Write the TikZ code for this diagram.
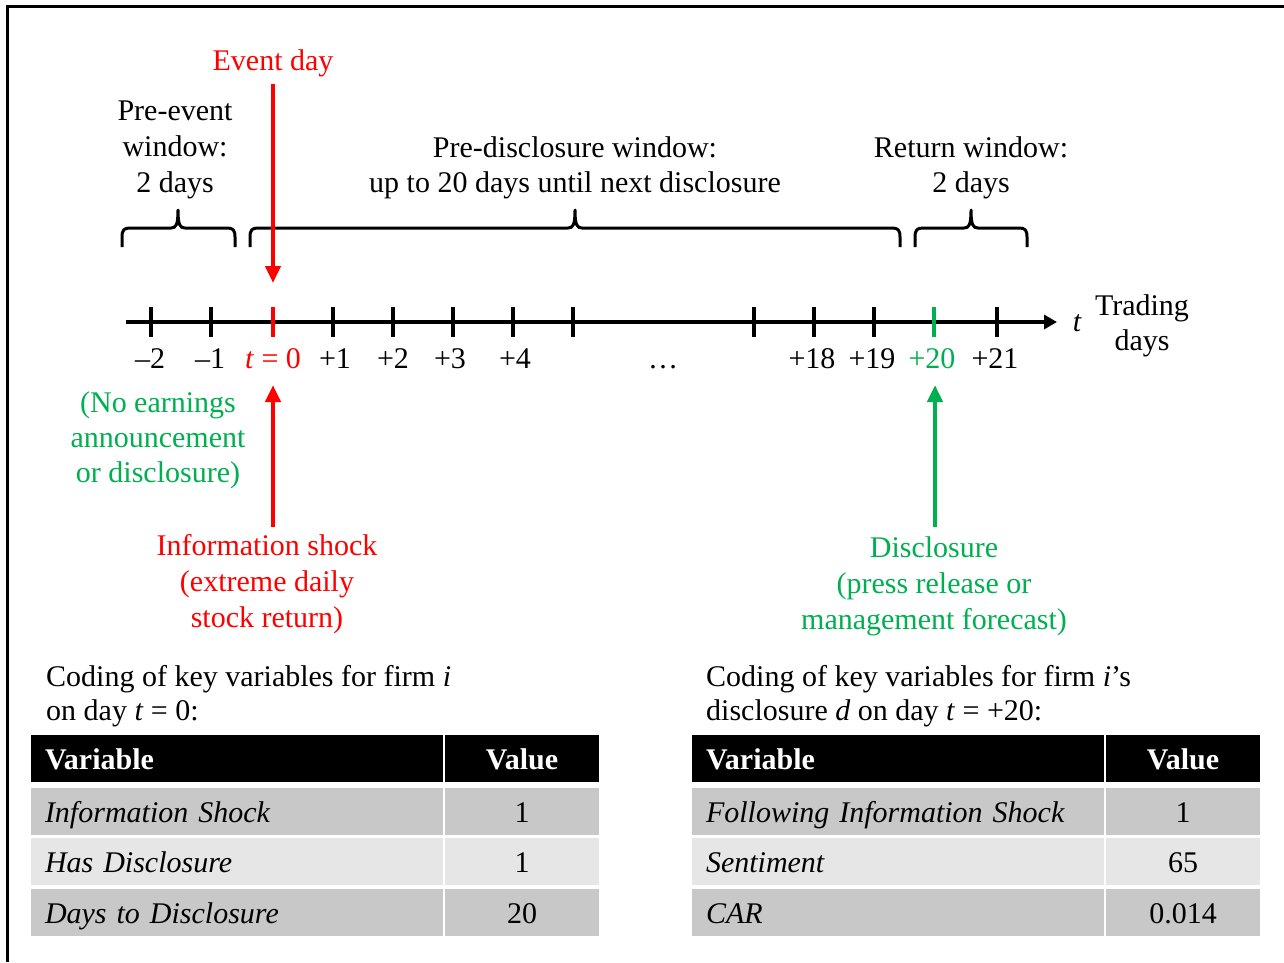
\documentclass[tikz,border=0pt]{standalone}
\usepackage{fontspec}
\setmainfont{Liberation Serif}
\usetikzlibrary{arrows.meta}
\definecolor{myred}{RGB}{255,0,0}
\definecolor{mygreen}{RGB}{0,176,80}
\definecolor{rowdark}{RGB}{200,200,200}
\definecolor{rowlight}{RGB}{230,230,230}
\newcommand\bigfont{\fontsize{30}{35}\selectfont}
\newcommand\widefont{\fontsize{30}{36}\selectfont}
\newcommand\tlbrace[3]{%
  \draw[bracepath] (#1,247) -- (#1,237) .. controls (#1,230) and ({#1+2},228) .. ({#1+8},228)
    -- ({#2-7},228) .. controls ({#2-2},228) and (#2,225) .. (#2,210)
    .. controls (#2,225) and ({#2+2},228) .. ({#2+7},228)
    -- ({#3-8},228) .. controls ({#3-2},228) and (#3,230) .. (#3,237) -- (#3,247);}
\begin{document}
\begin{tikzpicture}[x=1pt,y=-1pt,
  every node/.style={inner sep=0pt, font=\bigfont},
  lbl/.style={align=center},
  axisline/.style={line width=3.2pt, -{Triangle[length=13pt,width=14pt]}},
  tickmark/.style={line width=3.5pt},
  bracepath/.style={line width=3pt, line join=round, line cap=butt},
  bigarrow/.style={line width=4.5pt, -{Triangle[length=17pt,width=15pt]}},
  hdrvar/.style={fill=black, text=white, font=\bigfont\bfseries, text width=384pt, inner xsep=14pt, align=left, minimum height=47pt, text height=28pt, text depth=6pt},
  hdrval/.style={fill=black, text=white, font=\bigfont\bfseries, text width=126pt, inner xsep=14pt, align=center, minimum height=47pt, text height=28pt, text depth=6pt},
  cellvar/.style={fill=#1, font=\bigfont\itshape, text width=384pt, inner xsep=14pt, align=left, minimum height=47pt, text height=28pt, text depth=6pt},
  cellval/.style={fill=#1, font=\bigfont, text width=126pt, inner xsep=14pt, align=center, minimum height=47pt, text height=28pt, text depth=6pt}
]
\useasboundingbox (0,0) rectangle (1284,962);
\fill[white] (0,0) rectangle (1284,962);
% frame
\draw[line width=2.5pt] (7.5,962) -- (7.5,6.5) -- (1284,6.5);

% top labels
\node[anchor=base, text=myred] (evt) at (273,70) {Event day};
\node[lbl, font=\widefont] (preev) at (175,150) {Pre-event\\window:\\2 days};
\node[lbl] (predisc) at (575,167.5) {Pre-disclosure window:\\up to 20 days until next disclosure};
\node[lbl] (retwin) at (971,167.5) {Return window:\\2 days};

% braces
\tlbrace{122}{178}{235}
\tlbrace{250}{575}{900}
\tlbrace{915}{971}{1027}

% axis
\coordinate (axstart) at (126,322);
\coordinate (axend) at (1057,322);
\draw[axisline] (axstart) -- (axend);
\foreach \xx in {151,211,333,393,453,513,573,754,814,874,997}{
  \draw[tickmark] (\xx,307) -- (\xx,337);
}
\draw[tickmark, myred] (273,307) -- (273,337);
\draw[tickmark, mygreen] (934,307) -- (934,337);

\node[anchor=base, font=\bigfont\itshape] (tvar) at (1077,331) {t};
\node[lbl] (trd) at (1142,326) {Trading\\days};

% tick labels
\node[anchor=base] (lm2) at (150,368) {–2};
\node[anchor=base] (lm1) at (210,368) {–1};
\node[anchor=base, text=myred] (l0) at (273,368) {\textit{t} = 0};
\node[anchor=base] (lp1) at (335,368) {+1};
\node[anchor=base] (lp2) at (393,368) {+2};
\node[anchor=base] (lp3) at (450,368) {+3};
\node[anchor=base] (lp4) at (515,368) {+4};
\node[anchor=base] (ldots) at (663,368) {…};
\node[anchor=base] (lp18) at (812,368) {+18};
\node[anchor=base] (lp19) at (872,368) {+19};
\node[anchor=base, text=mygreen] (lp20) at (932,368) {+20};
\node[anchor=base] (lp21) at (995,368) {+21};

% arrows
\coordinate (evtTop) at (273,84);
\coordinate (evtTip) at (273,283);
\draw[bigarrow, myred] (evtTop) -- (evtTip);
\coordinate (shkBot) at (273,527);
\coordinate (shkTip) at (273,385);
\draw[bigarrow, myred] (shkBot) -- (shkTip);
\coordinate (disBot) at (935,527);
\coordinate (disTip) at (935,385);
\draw[bigarrow, mygreen] (disBot) -- (disTip);

% lower labels
\node[lbl, text=mygreen] (noearn) at (158,440.5) {(No earnings\\announcement\\or disclosure)};
\node[lbl, text=myred, font=\widefont] (shock) at (267,584) {Information shock\\(extreme daily\\stock return)};
\node[lbl, text=mygreen, font=\widefont] (discl) at (934,586) {Disclosure\\(press release or\\management forecast)};

% captions
\node[anchor=west, align=left, font=\fontsize{30}{34}\selectfont] (capL) at (46,696) {Coding of key variables for firm \textit{i}\\on day \textit{t} = 0:};
\node[anchor=west, align=left, font=\fontsize{30}{34}\selectfont] (capR) at (706,696) {Coding of key variables for firm \textit{i}’s\\disclosure \textit{d} on day \textit{t} = +20:};

% left table
\node[hdrvar] (LhV) at (237,758.5) {Variable};
\node[hdrval] (LhW) at (522,758.5) {Value};
\node[cellvar=rowdark] (La1) at (237,811) {Information Shock};
\node[cellval=rowdark] (Lb1) at (522,811) {1};
\node[cellvar=rowlight] (La2) at (237,861.5) {Has Disclosure};
\node[cellval=rowlight] (Lb2) at (522,861.5) {1};
\node[cellvar=rowdark] (La3) at (237,912) {Days to Disclosure};
\node[cellval=rowdark] (Lb3) at (522,912) {20};

% right table
\node[hdrvar] (RhV) at (898,758.5) {Variable};
\node[hdrval] (RhW) at (1183,758.5) {Value};
\node[cellvar=rowdark] (Ra1) at (898,811) {Following Information Shock};
\node[cellval=rowdark] (Rb1) at (1183,811) {1};
\node[cellvar=rowlight] (Ra2) at (898,861.5) {Sentiment};
\node[cellval=rowlight] (Rb2) at (1183,861.5) {65};
\node[cellvar=rowdark] (Ra3) at (898,912) {CAR};
\node[cellval=rowdark] (Rb3) at (1183,912) {0.014};
\end{tikzpicture}
\end{document}
